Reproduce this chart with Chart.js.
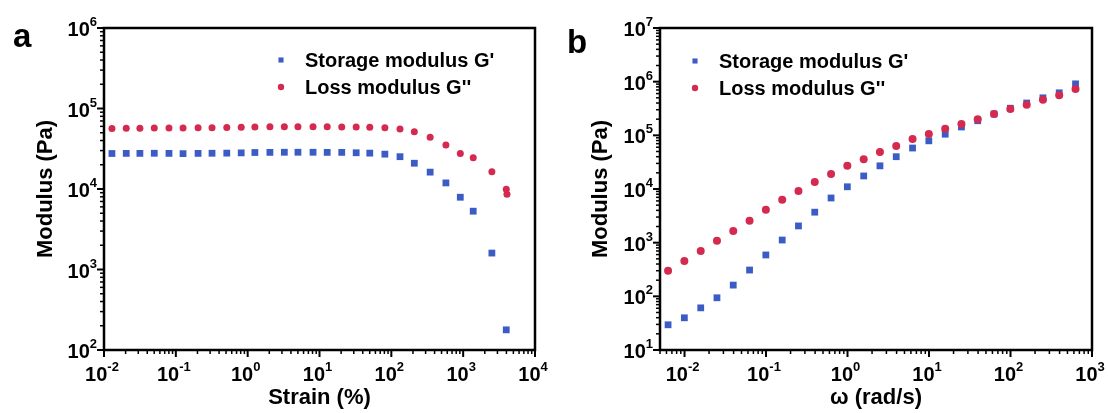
<!DOCTYPE html>
<html>
<head>
<meta charset="utf-8">
<script src="https://cdn.jsdelivr.net/npm/chart.js@4.4.1/dist/chart.umd.min.js"></script>
<style>
  html, body { margin: 0; padding: 0; background: #fff; }
  .wrap { position: relative; width: 1108px; height: 413px; }
  .panel { position: absolute; top: 0; width: 554px; height: 413px; }
  #panelA { left: 0; }
  #panelB { left: 554px; }
</style>
</head>
<body>
<div class="wrap">
  <div class="panel" id="panelA"><canvas id="chartStrain"></canvas></div>
  <div class="panel" id="panelB"><canvas id="chartFreq"></canvas></div>
</div>
<script>
// ── (a) amplitude sweep ──
const strain    = [0.0129, 0.0204, 0.0316, 0.0501, 0.0803, 0.126, 0.204, 0.319, 0.512, 0.813,
                   1.26, 2.04, 3.24, 5.01, 8.13, 12.8, 20.4, 32.4, 50.1, 81.3,
                   132, 209, 347, 575, 912, 1380, 2510, 3980, 4070];
const storageA  = [27600, 27700, 27700, 27800, 27700, 27500, 27700, 27800, 27900, 28100,
                   28400, 28500, 28600, 28600, 28600, 28500, 28500, 28200, 27900, 27100,
                   25200, 20900, 16200, 11900, 7900, 5300, 1600, 178, null];
const lossA     = [56500, 56800, 57000, 57200, 57300, 57400, 57600, 57700, 58000, 58400,
                   58900, 59200, 59400, 59400, 59400, 59300, 59100, 58800, 58500, 57800,
                   55600, 51500, 43800, 35200, 27700, 24500, 16400, 9900, 8600];
const strainTicks  = [1e-2, 1e-1, 1, 1e1, 1e2, 1e3, 1e4];
const modulusTicksA = [1e2, 1e3, 1e4, 1e5, 1e6];

// ── (b) frequency sweep ──
const omega     = [0.00628, 0.00995, 0.0158, 0.025, 0.0396, 0.0628, 0.0995, 0.158, 0.25, 0.396,
                   0.628, 0.995, 1.58, 2.5, 3.96, 6.28, 9.95, 15.8, 25, 39.6,
                   62.8, 99.5, 158, 250, 396, 628];
const storageB  = [29.5, 39.8, 61, 94, 162, 309, 590, 1120, 2050, 3700,
                   6800, 11000, 17500, 27000, 40000, 58000, 79000, 105000, 143000, 187000,
                   250000, 320000, 400000, 500000, 620000, 910000];
const lossB     = [299, 457, 703, 1080, 1650, 2560, 4100, 6300, 9200, 13500,
                   19000, 27000, 36000, 49000, 63000, 85000, 106000, 132000, 163000, 200000,
                   250000, 310000, 370000, 460000, 560000, 730000];
const omegaTicks    = [1e-2, 1e-1, 1, 1e1, 1e2, 1e3];
const modulusTicksB = [1e1, 1e2, 1e3, 1e4, 1e5, 1e6, 1e7];

const BLUE = "#3c5cc5";
const RED  = "#d42a4f";
const FONT = '"Liberation Sans", Arial, sans-serif';

function pts(xs, ys) {
  return xs.map((x, i) => ({ x, y: ys[i] ?? null }));
}

function logTicks(min, max) {
  const out = [];
  for (let e = Math.floor(Math.log10(min)); e <= Math.ceil(Math.log10(max)); e++) {
    for (let k = 1; k < 10; k++) {
      const v = k * Math.pow(10, e);
      if (v >= min * 0.999 && v <= max * 1.001) out.push({ v, major: k === 1 });
    }
  }
  return out;
}

// "10" with a raised exponent; align = "center" (x axis) or "right" (y axis)
function powerLabel(ctx, v, x, y, align) {
  const exp = String(Math.round(Math.log10(v)));
  ctx.font = "bold 20px " + FONT;
  const wb = ctx.measureText("10").width;
  ctx.font = "bold 13px " + FONT;
  const we = ctx.measureText(exp).width;
  const x0 = align === "center" ? x - (wb + we) / 2 - 2 : x - wb - we;
  ctx.textAlign = "left";
  ctx.textBaseline = "alphabetic";
  ctx.font = "bold 20px " + FONT;
  ctx.fillText("10", x0, y);
  ctx.font = "bold 13px " + FONT;
  ctx.fillText(exp, x0 + wb, y - 10);
}

const frameAxes = {
  id: "frameAxes",
  afterDraw(chart, args, o) {
    const { ctx, chartArea: a, scales: { x, y } } = chart;
    ctx.save();
    ctx.strokeStyle = "#000";
    ctx.fillStyle = "#000";

    // outward ticks, long on decades
    logTicks(x.min, x.max).forEach(t => {
      const px = x.getPixelForValue(t.v);
      ctx.lineWidth = t.major ? 2 : 1.5;
      ctx.beginPath();
      ctx.moveTo(px, a.bottom);
      ctx.lineTo(px, a.bottom + (t.major ? 7 : 4));
      ctx.stroke();
    });
    logTicks(y.min, y.max).forEach(t => {
      const py = y.getPixelForValue(t.v);
      ctx.lineWidth = t.major ? 2 : 1.5;
      ctx.beginPath();
      ctx.moveTo(a.left, py);
      ctx.lineTo(a.left - (t.major ? 7 : 4), py);
      ctx.stroke();
    });

    ctx.lineWidth = 2.5;
    ctx.strokeRect(a.left, a.top, a.right - a.left, a.bottom - a.top);

    o.xTicks.forEach(v => powerLabel(ctx, v, x.getPixelForValue(v), a.bottom + 31, "center"));
    o.yTicks.forEach(v => powerLabel(ctx, v, a.left - 7, y.getPixelForValue(v) + 8, "right"));

    // legend inside the plot
    chart.data.datasets.forEach((ds, i) => {
      const ly = o.legend.y + i * 27;
      ctx.fillStyle = ds.backgroundColor;
      Chart.helpers.drawPoint(ctx, {
        pointStyle: ds.pointStyle,
        radius: ds.pointStyle === "rect" ? 3.6 : 3.2,
        borderWidth: 0
      }, o.legend.x, ly);
      ctx.fillStyle = "#000";
      ctx.font = "bold 20px " + FONT;
      ctx.textAlign = "left";
      ctx.textBaseline = "middle";
      ctx.fillText(ds.label, o.legend.x + 24, ly + 1);
    });

    ctx.font = "bold 33px " + FONT;
    ctx.textAlign = "left";
    ctx.textBaseline = "alphabetic";
    ctx.fillText(o.letter, 13, o.letterY);
    ctx.restore();
  }
};

function makeChart(id, cfg) {
  const canvas = document.getElementById(id);
  return new Chart(canvas, {
    type: "scatter",
    data: {
      datasets: [{
        label: "Storage modulus G'",
        data: cfg.storage,
        pointStyle: "rect",
        backgroundColor: BLUE,
        borderColor: BLUE,
        borderWidth: 0,
        pointRadius: cfg.rectR,
        order: 2
      }, {
        label: "Loss modulus G''",
        data: cfg.loss,
        pointStyle: "circle",
        backgroundColor: RED,
        borderColor: RED,
        borderWidth: 0,
        pointRadius: cfg.circR,
        order: 1
      }]
    },
    options: {
      responsive: true,
      maintainAspectRatio: false,
      animation: false,
      layout: { padding: { left: 0, right: cfg.padRight, top: 28, bottom: 0 } },
      plugins: {
        legend: { display: false },
        tooltip: { enabled: false },
        frameAxes: cfg.frame
      },
      scales: {
        x: {
          type: "logarithmic",
          min: cfg.xMin, max: cfg.xMax,
          grid: { display: false },
          border: { display: false },
          ticks: { display: false },
          title: {
            display: true, text: cfg.xTitle, color: "#000",
            font: { family: FONT, size: 22, weight: "bold" },
            padding: { top: 0, bottom: 2 }
          },
          afterFit: s => { s.height = 63; }
        },
        y: {
          type: "logarithmic",
          min: cfg.yMin, max: cfg.yMax,
          grid: { display: false },
          border: { display: false },
          ticks: { display: false },
          title: {
            display: true, text: "Modulus (Pa)", color: "#000",
            font: { family: FONT, size: 22, weight: "bold" },
            padding: { top: cfg.yTitlePad, bottom: 0 }
          },
          afterFit: s => { s.width = cfg.yWidth; }
        }
      }
    },
    plugins: [frameAxes]
  });
}

makeChart("chartStrain", {
  storage: pts(strain, storageA),
  loss: pts(strain, lossA),
  rectR: 4.8, circR: 3.5,
  xMin: 1e-2, xMax: 1e4, yMin: 1e2, yMax: 1e6,
  xTitle: "Strain (%)",
  yWidth: 104, padRight: 19, yTitlePad: 33,
  frame: { xTicks: strainTicks, yTicks: modulusTicksA, letter: "a", letterY: 47,
           legend: { x: 281, y: 60 } }
});

makeChart("chartFreq", {
  storage: pts(omega, storageB),
  loss: pts(omega, lossB),
  rectR: 4.8, circR: 4,
  xMin: 0.005, xMax: 1e3, yMin: 1e1, yMax: 1e7,
  xTitle: "ω (rad/s)",
  yWidth: 106, padRight: 16, yTitlePad: 34,
  frame: { xTicks: omegaTicks, yTicks: modulusTicksB, letter: "b", letterY: 53,
           legend: { x: 141, y: 61 } }
});
</script>
</body>
</html>
